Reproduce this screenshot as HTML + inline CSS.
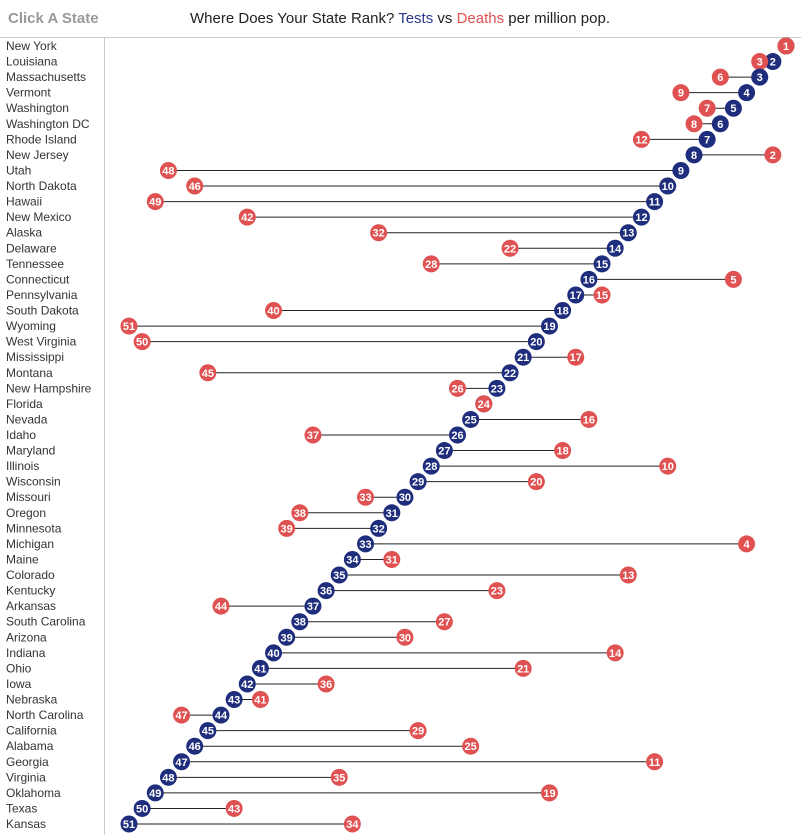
<!DOCTYPE html>
<html><head><meta charset="utf-8"><style>
body{margin:0;background:#fff;font-family:"Liberation Sans",sans-serif;}
svg text{font-family:"Liberation Sans",sans-serif;}
</style></head><body>
<svg id="c" width="801" height="835">
<text x="8" y="23" font-size="15" font-weight="bold" fill="#999">Click A State</text>
<text x="400" y="23" font-size="15" text-anchor="middle" fill="#222">Where Does Your State Rank? <tspan fill="#2b3a8c">Tests</tspan> vs <tspan fill="#e05252">Deaths</tspan> per million pop.</text>
<line x1="0" y1="37.5" x2="801" y2="37.5" stroke="#ccc"/>
<line x1="104.5" y1="37" x2="104.5" y2="835" stroke="#ccc"/>
<g id="rows"></g>
</svg>
<script>
const states=["New York","Louisiana","Massachusetts","Vermont","Washington","Washington DC","Rhode Island","New Jersey","Utah","North Dakota","Hawaii","New Mexico","Alaska","Delaware","Tennessee","Connecticut","Pennsylvania","South Dakota","Wyoming","West Virginia","Mississippi","Montana","New Hampshire","Florida","Nevada","Idaho","Maryland","Illinois","Wisconsin","Missouri","Oregon","Minnesota","Michigan","Maine","Colorado","Kentucky","Arkansas","South Carolina","Arizona","Indiana","Ohio","Iowa","Nebraska","North Carolina","California","Alabama","Georgia","Virginia","Oklahoma","Texas","Kansas"];
const testRank=[1,2,3,4,5,6,7,8,9,10,11,12,13,14,15,16,17,18,19,20,21,22,23,24,25,26,27,28,29,30,31,32,33,34,35,36,37,38,39,40,41,42,43,44,45,46,47,48,49,50,51];
const deathRank=[1,3,6,9,7,8,12,2,48,46,49,42,32,22,28,5,15,40,51,50,17,45,26,24,16,37,18,10,20,33,38,39,4,31,13,23,44,27,30,14,21,36,41,47,29,25,11,35,19,43,34];
const NS="http://www.w3.org/2000/svg";
const g=document.getElementById('rows');
function xs(r){return 786-(r-1)*13.14;}
function ys(i){return 46+i*15.56;}
function mk(t,a){const e=document.createElementNS(NS,t);for(const k in a)e.setAttribute(k,a[k]);g.appendChild(e);return e;}
states.forEach((s,i)=>{
  const y=ys(i);
  const lab=mk('text',{x:6,y:y+4,'font-size':12,fill:'#333'});
  lab.textContent=s;
  
  
  const ln=mk('line',{x1:xs(testRank[i]),x2:xs(deathRank[i]),y1:y,y2:y,stroke:'#222','stroke-width':1});
  
  
  [[testRank[i],'#1f2d7d','test-rank-dot'],[deathRank[i],'#e05252','death-rank-dot']].forEach(([r,c,n])=>{
    const ci=mk('circle',{cx:xs(r),cy:y,r:8.5,fill:c});
    
    
    const t=mk('text',{x:xs(r),y:y+4,'font-size':11,'font-weight':'bold',fill:'#fff','text-anchor':'middle'});
    t.textContent=r;
    
    
  });
});
</script>
</body></html>
